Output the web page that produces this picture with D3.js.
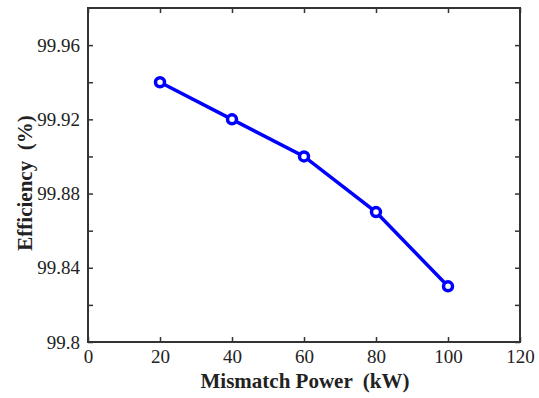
<!DOCTYPE html>
<html lang="en">
<head>
    <meta charset="UTF-8">
    <title>Efficiency vs Mismatch Power</title>
    <script src="https://d3js.org/d3.v7.min.js"></script>
    <style>
        body { margin: 0; background: #fff; }
    </style>
</head>
<body>
    <div id="chart"></div>
    <script>
        // Data
        const power = [20, 40, 60, 80, 100];
        const efficiency = [99.94, 99.92, 99.90, 99.87, 99.83];
        const xTicks = [0, 20, 40, 60, 80, 100, 120];
        const yTicks = [99.8, 99.82, 99.84, 99.86, 99.88, 99.9, 99.92, 99.94, 99.96];
        const yLabels = [99.8, 99.84, 99.88, 99.92, 99.96];

        const width = 539, height = 398;
        const margin = { top: 8, right: 19, bottom: 56, left: 88 };
        const serif = "'Liberation Serif', 'Times New Roman', serif";

        const svg = d3.select("#chart").append("svg")
            .attr("width", width)
            .attr("height", height)
            .attr("font-family", serif);

        const x = d3.scaleLinear().domain([0, 120])
            .range([margin.left, width - margin.right]);
        const y = d3.scaleLinear().domain([99.8, 99.98])
            .range([height - margin.bottom, margin.top]);

        const yFmt = d => yLabels.some(v => Math.abs(v - d) < 1e-6) ? String(+d.toFixed(2)) : "";

        function styleAxis(g) {
            g.attr("font-family", serif).attr("font-size", 19);
            g.selectAll("text").attr("fill", "#222");
            g.select(".domain").remove();
            g.selectAll(".tick line").attr("stroke", "#333").attr("stroke-width", 1.5);
        }

        // bottom axis
        svg.append("g")
            .attr("transform", `translate(0,${height - margin.bottom})`)
            .call(d3.axisBottom(x).tickValues(xTicks).tickSize(-5).tickPadding(8))
            .call(styleAxis);

        // top axis (ticks only)
        svg.append("g")
            .attr("transform", `translate(0,${margin.top})`)
            .call(d3.axisTop(x).tickValues(xTicks).tickSize(-5).tickFormat(""))
            .call(styleAxis);

        // left axis
        svg.append("g")
            .attr("transform", `translate(${margin.left},0)`)
            .call(d3.axisLeft(y).tickValues(yTicks).tickSize(-5).tickPadding(8).tickFormat(yFmt))
            .call(styleAxis);

        // right axis (ticks only)
        svg.append("g")
            .attr("transform", `translate(${width - margin.right},0)`)
            .call(d3.axisRight(y).tickValues(yTicks).tickSize(-5).tickFormat(""))
            .call(styleAxis);

        // frame
        svg.append("rect")
            .attr("x", margin.left)
            .attr("y", margin.top)
            .attr("width", width - margin.left - margin.right)
            .attr("height", height - margin.top - margin.bottom)
            .attr("fill", "none")
            .attr("stroke", "#333")
            .attr("stroke-width", 2);

        const pts = power.map((p, i) => ({ p: p, e: efficiency[i] }));

        svg.append("path")
            .datum(pts)
            .attr("fill", "none")
            .attr("stroke", "#0000ff")
            .attr("stroke-width", 3.5)
            .attr("d", d3.line().x(d => x(d.p)).y(d => y(d.e)));

        svg.selectAll(".marker")
            .data(pts)
            .enter().append("circle")
            .attr("class", "marker")
            .attr("cx", d => x(d.p))
            .attr("cy", d => y(d.e))
            .attr("r", 4.5)
            .attr("fill", "#fff")
            .attr("stroke", "#0000ff")
            .attr("stroke-width", 3.5);

        // axis titles
        svg.append("text")
            .attr("x", 305)
            .attr("y", 388)
            .attr("text-anchor", "middle")
            .attr("font-size", 21)
            .attr("font-weight", "bold")
            .attr("fill", "#222")
            .style("white-space", "pre")
            .text("Mismatch Power  (kW)");

        svg.append("text")
            .attr("transform", `translate(32,183) rotate(-90)`)
            .attr("text-anchor", "middle")
            .attr("font-size", 21)
            .attr("font-weight", "bold")
            .attr("fill", "#222")
            .style("white-space", "pre")
            .text("Efficiency  (%)");
    </script>
</body>
</html>
